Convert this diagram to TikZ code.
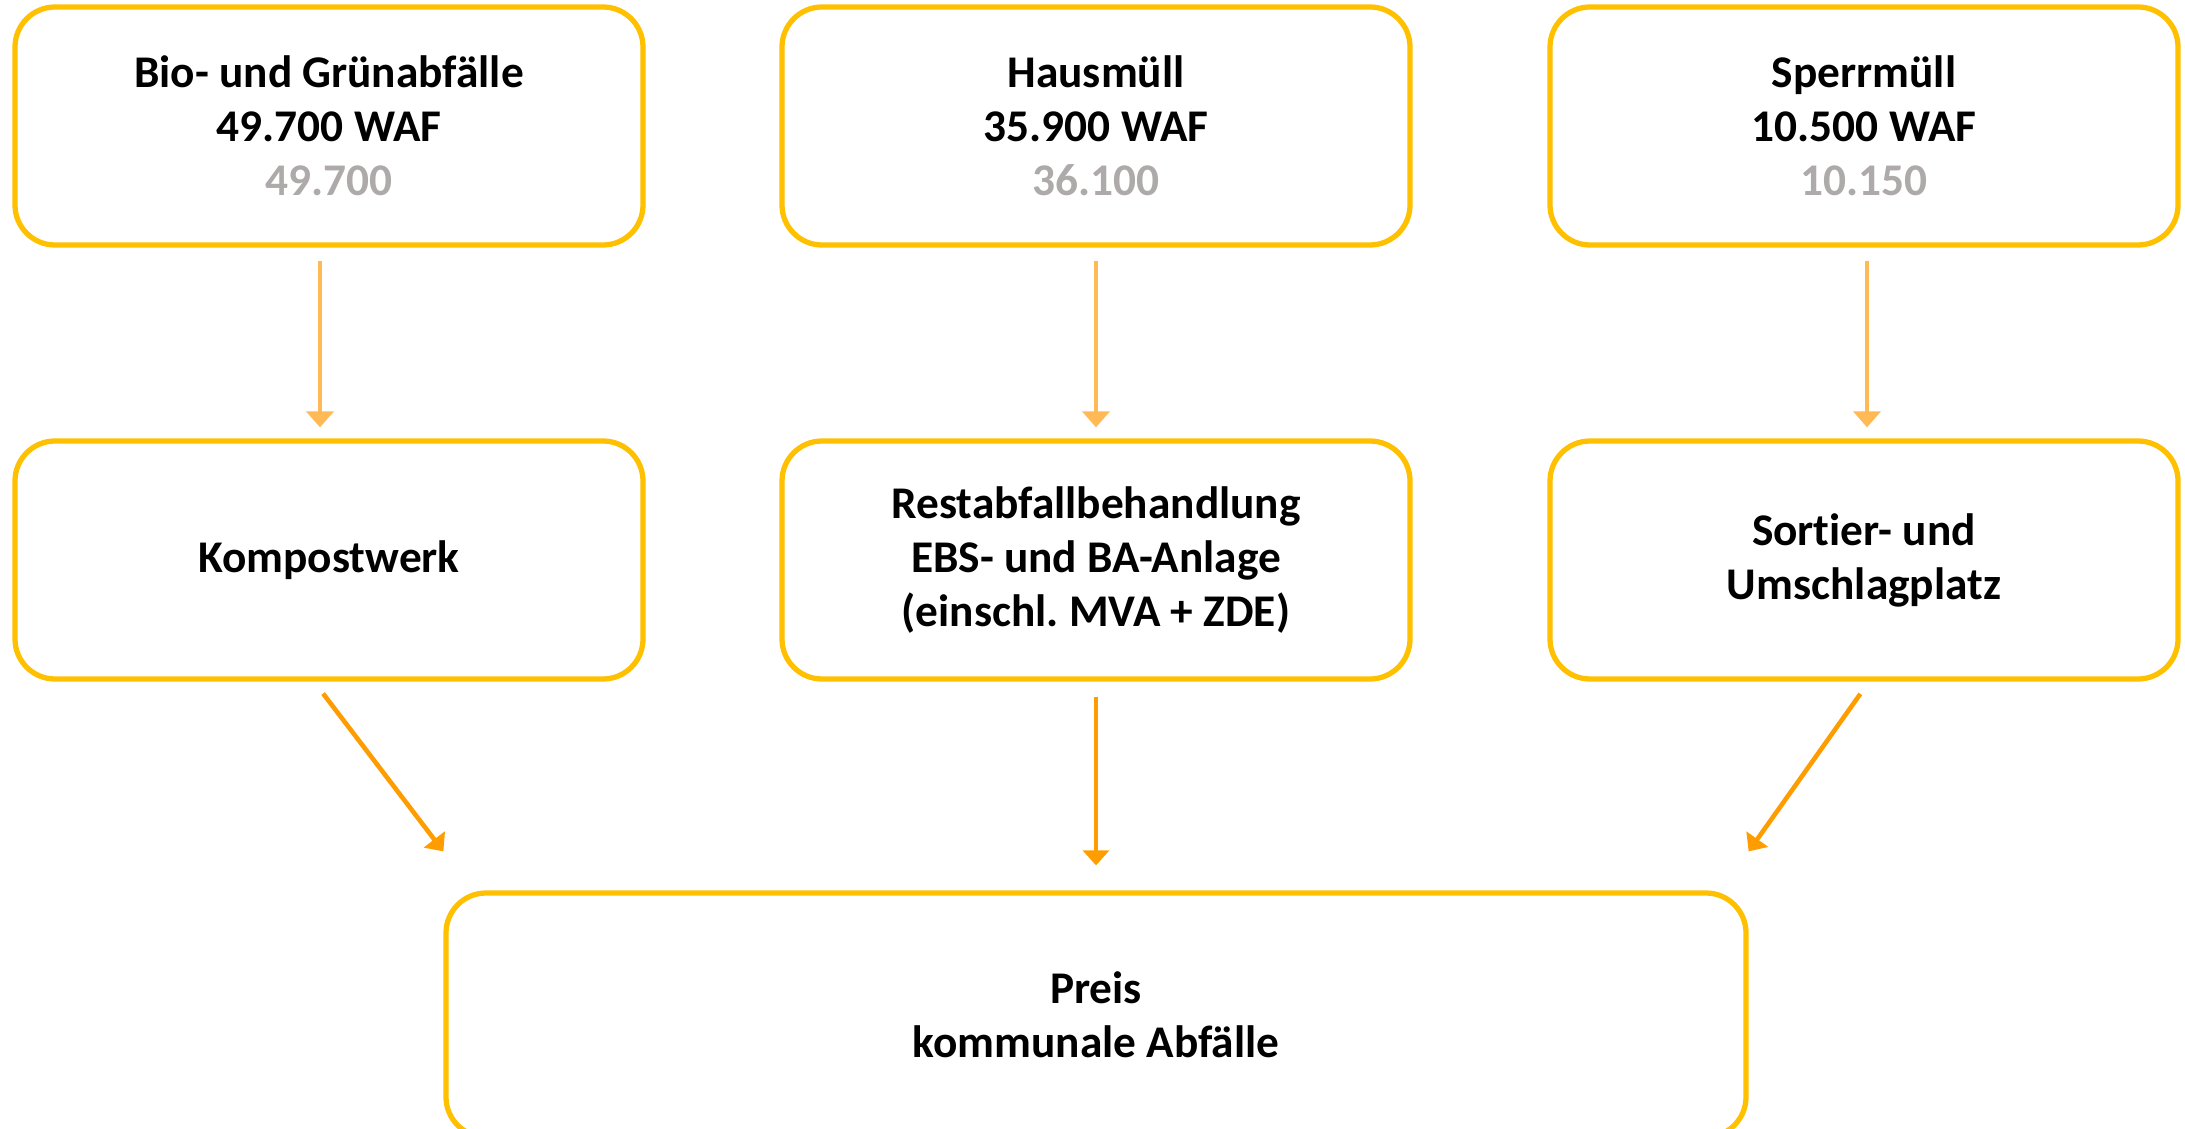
\documentclass[tikz,border=0pt]{standalone}
\usepackage{fontspec}
\setmainfont{Carlito}[Ligatures=NoCommon]
\usetikzlibrary{arrows.meta}
\definecolor{boxgold}{HTML}{FFC000}
\definecolor{arrlight}{HTML}{FFB955}
\definecolor{arrdark}{HTML}{FF9D00}
\definecolor{oldgray}{HTML}{AEAAAA}
\frenchspacing
\begin{document}
\begin{tikzpicture}[
	box/.style={draw=boxgold,line width=1.5pt,rounded corners=0.4cm,minimum width=6.28cm,minimum height=2.38cm,align=center,font=\fontsize{12.9}{15.4}\selectfont\bfseries},
	toparr/.style={draw=arrlight,line width=1.3pt,-{Triangle[width=0.27cm,length=0.16cm]},shorten <=0.13cm,shorten >=0.11cm},
	lowarr/.style={draw=arrdark,line width=1.3pt,-{Triangle[width=0.26cm,length=0.15cm]},shorten <=0.15cm}]
	\useasboundingbox (0,0) rectangle (21.85,11.28);
	\node[box] (bio) at (3.29,10.02) {Bio- und Grünabfälle\\49.700 WAF\\\textcolor{oldgray}{49.700}};
	\node[box] (haus) at (10.96,10.02) {Hausmüll\\35.900 WAF\\\textcolor{oldgray}{36.100}};
	\node[box] (sperr) at (18.64,10.02) {Sperrmüll\\10.500 WAF\\\textcolor{oldgray}{10.150}};
	\node[box] (kompost) at (3.29,5.68) {Kompostwerk};
	\node[box] (rest) at (10.96,5.68) {Restabfallbehandlung\\EBS- und BA-Anlage\\(einschl. MVA + ZDE)};
	\node[box] (sortier) at (18.64,5.68) {Sortier- und\\Umschlagplatz};
	\node[box,minimum width=13cm,minimum height=2.44cm] (preis) at (10.96,1.13) {Preis\\kommunale Abfälle};
	\draw[toparr] ([xshift=-0.09cm]bio.south) -- ([xshift=-0.09cm]kompost.north);
	\draw[toparr] (haus.south) -- (rest.north);
	\draw[toparr] ([xshift=0.03cm]sperr.south) -- ([xshift=0.03cm]sortier.north);
	\draw[lowarr] ([xshift=-0.15cm]kompost.south) -- ([yshift=0.39cm]preis.north west);
	\draw[lowarr,shorten >=0.25cm] (rest.south) -- (preis.north);
	\draw[lowarr] ([xshift=0.05cm]sortier.south) -- ([yshift=0.39cm]preis.north east);
\end{tikzpicture}
\end{document}
